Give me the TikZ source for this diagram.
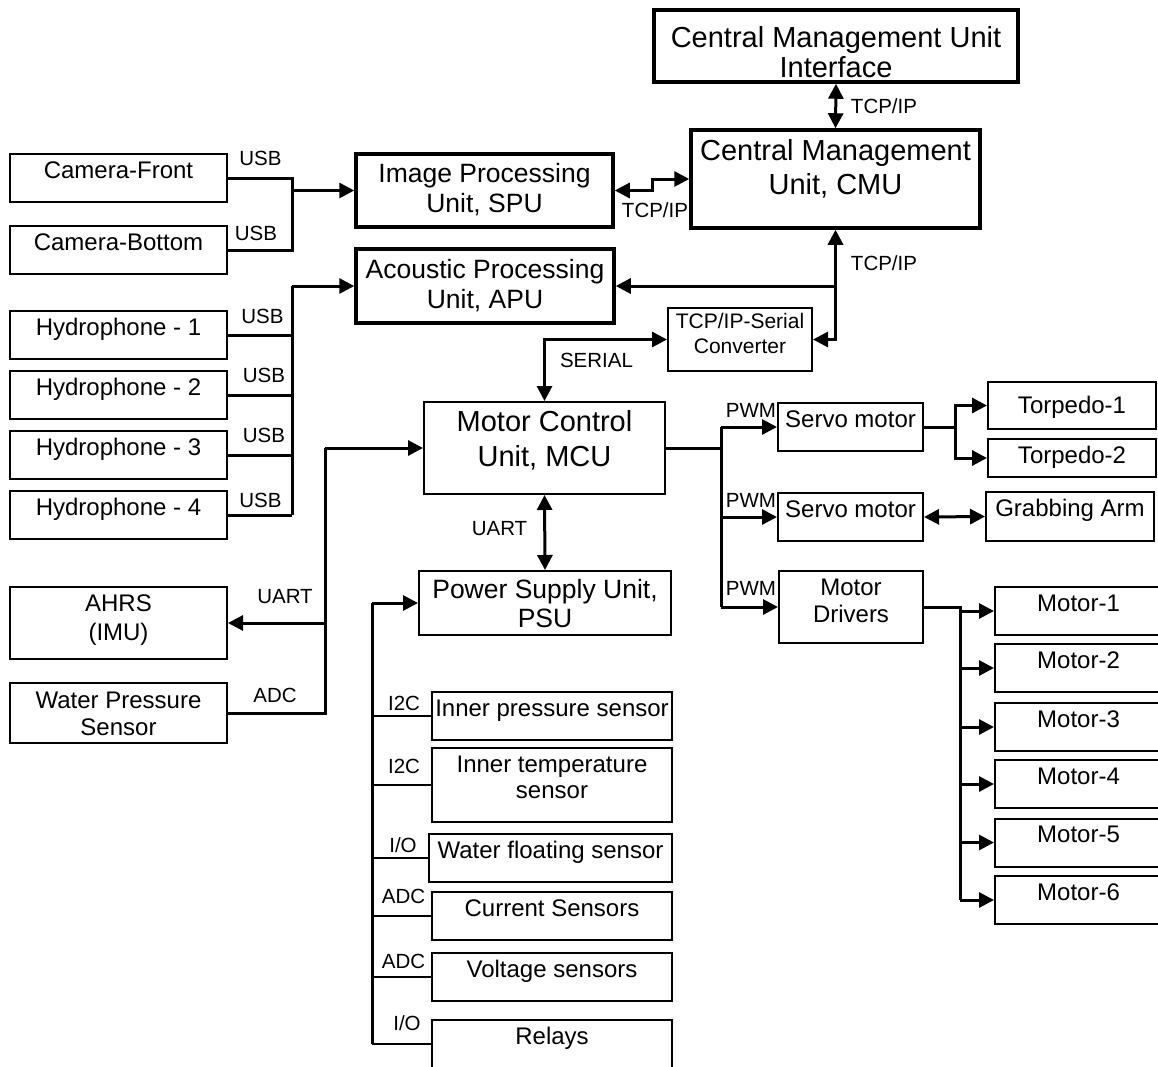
\documentclass[tikz,border=0pt]{standalone}
\usepackage{fontspec}
\setmainfont{Liberation Sans}
\usetikzlibrary{arrows.meta, calc}

\begin{document}
\begin{tikzpicture}[x=1pt, y=-1pt,
    block/.style={rectangle, draw, line width=2pt, inner sep=1pt, align=center,
      text height=0pt, text depth=0pt, font=\fontsize{24}{27}\selectfont},
    mainblock/.style={block, line width=3.5pt},
    camblock/.style={block, minimum width=217, minimum height=48},
    motorblock/.style={block, minimum width=167, minimum height=48},
    sensblock/.style={block, minimum width=240, minimum height=48},
    bus/.style={line width=3pt},
    tie/.style={line width=2.5pt},
    dataflow/.style={bus, -{Triangle[length=15pt, width=15pt]}},
    twoway/.style={bus, {Triangle[length=15pt, width=15pt]}-{Triangle[length=15pt, width=15pt]}},
    iface/.style={anchor=base, inner sep=0pt, font=\fontsize{20.5}{22}\selectfont}]
  \path[use as bounding box, fill=white] (0,0) rectangle (1158,1066);

  % management and processing units
  \node[mainblock, minimum width=364, minimum height=72, text height=62pt,
    font=\fontsize{29}{30}\selectfont] (cmui) at (836,46) {Central Management Unit\\Interface};
  \node[mainblock, minimum width=289, minimum height=98, text height=30pt,
    font=\fontsize{29}{34}\selectfont] (cmu) at (835.5,179) {Central Management\\Unit, CMU};
  \node[mainblock, minimum width=257, minimum height=73, text height=43pt,
    font=\fontsize{26.5}{30}\selectfont] (spu) at (484.5,190.5) {Image Processing\\Unit, SPU};
  \node[mainblock, minimum width=258, minimum height=74, text height=44pt,
    font=\fontsize{26.5}{30}\selectfont] (apu) at (485,286) {Acoustic Processing\\Unit, APU};
  \node[block, minimum width=144, minimum height=63, text height=27pt,
    font=\fontsize{21}{25}\selectfont] (conv) at (740,339.5) {TCP/IP-Serial\\Converter};
  \node[block, minimum width=241, minimum height=92, text height=36pt,
    font=\fontsize{29}{35}\selectfont] (mcu) at (544.5,448) {Motor Control\\Unit, MCU};
  \node[block, minimum width=252, minimum height=64, text height=48pt,
    font=\fontsize{26.5}{29}\selectfont] (psu) at (545,603) {Power Supply Unit,\\PSU};

  % sensors on the left
  \node[camblock] (camf) at (118.5,178) {Camera-Front};
  \node[camblock] (camb) at (118.5,250) {Camera-Bottom};
  \foreach \i/\y in {1/335,2/395,3/455,4/515}
    \node[camblock] (hyd\i) at (118.5,\y) {Hydrophone - \i};
  \node[camblock, minimum height=72, text height=34pt,
    font=\fontsize{24}{28.5}\selectfont] (ahrs) at (118.5,623) {AHRS\\(IMU)};
  \node[camblock, minimum height=60, text height=44pt] (wps) at (118.5,713) {Water Pressure\\Sensor};

  % actuators
  \node[block, minimum width=145, minimum height=48] (servoa) at (850.5,427) {Servo motor};
  \node[block, minimum width=145, minimum height=48] (servob) at (850.5,517) {Servo motor};
  \node[block, minimum width=144, minimum height=72, text height=30pt] (md) at (851,607) {Motor\\Drivers};
  \node[block, minimum width=168, minimum height=47, text height=15pt] (torpa) at (1072,405.5) {Torpedo-1};
  \node[block, minimum width=168, minimum height=38, text height=10pt] (torpb) at (1072,458) {Torpedo-2};
  \node[block, minimum width=168, minimum height=49] (grab) at (1070,516.5) {Grabbing Arm};
  \foreach \i/\y in {1/611,2/668,3/727,4/784,5/842.5,6/900}
    \node[motorblock] (mot\i) at (1078.5,\y) {Motor-\i};

  % internal sensors
  \node[sensblock] (ips) at (552,716) {Inner pressure sensor};
  \node[sensblock, minimum height=74, text height=26pt,
    font=\fontsize{24}{26}\selectfont] (its) at (552,785) {Inner temperature\\sensor};
  \node[sensblock, minimum width=243] (wfs) at (550.5,858) {Water floating sensor};
  \node[sensblock] (cs) at (552,916) {Current Sensors};
  \node[sensblock] (vs) at (552,977) {Voltage sensors};
  \node[sensblock] (rel) at (552,1044) {Relays};

  % junctions
  \coordinate (jcam) at (292,190.5);
  \coordinate (jhyd) at (292,286);
  \coordinate (japu) at (835.5,286);
  \coordinate (jimu) at (325,448);
  \coordinate (jpwm) at (721,448);
  \coordinate (jtor) at (955,427);
  \coordinate (jmot) at (960,607);
  \coordinate (jpsu) at (372,603);

  % cameras and hydrophones
  \draw[bus] (camf.east) -| (jcam) |- (camb.east);
  \draw[dataflow] (jcam) -- (spu.west);
  \draw[bus] (jhyd) -- (jhyd |- hyd4.east);
  \foreach \i in {1,...,4}
    \draw[bus] (hyd\i.east) -- (hyd\i.east -| jhyd);
  \draw[dataflow] (jhyd) -- (apu.west);

  % TCP/IP network
  \draw[twoway] (cmui.south) -- (cmu.north);
  \draw[twoway] (spu.east) -| ($(spu.east)!0.5!(cmu.west)$) |- (cmu.west);
  \draw[twoway] (conv.east) -| (cmu.south);
  \draw[dataflow] (japu) -- (apu.east);
  \draw[twoway] (conv.west) -| (mcu.north);
  \draw[twoway] (mcu.south) -- (psu.north);

  % navigation sensors
  \draw[dataflow] (jimu) -- (mcu.west);
  \draw[bus] (jimu) |- (wps.east);
  \draw[dataflow] (jimu |- ahrs.east) -- (ahrs.east);

  % PWM outputs
  \draw[bus] (mcu.east) -- (jpwm);
  \draw[bus] (jpwm |- servoa.west) -- (jpwm |- md.west);
  \foreach \n in {servoa,servob,md}
    \draw[dataflow] (jpwm |- \n.west) -- (\n.west);
  \draw[bus] (servoa.east) -- (jtor);
  \draw[dataflow] (jtor) |- (torpa.west);
  \draw[dataflow] (jtor) |- (torpb.west);
  \draw[twoway] (servob.east) -- (grab.west);
  \draw[bus] (md.east) -- (jmot) -- (jmot |- mot6.west);
  \foreach \i in {1,...,6}
    \draw[dataflow] (jmot |- mot\i.west) -- (mot\i.west);

  % PSU sensor bus
  \draw[dataflow] (jpsu) -- (psu.west);
  \draw[bus] (jpsu) -- (jpsu |- rel.west);
  \foreach \n in {ips,its,wfs,cs,vs,rel}
    \draw[tie] (jpsu |- \n.west) -- (\n.west);

  % interface labels
  \foreach \x/\y [count=\k] in {260.5/165,256/240,262.5/323,264/382,264/442,260.5/507}
    \node[iface] (usb\k) at (\x,\y) {USB};
  \foreach \x/\y [count=\k] in {884/113,655/217,884/270}
    \node[iface] (tcp\k) at (\x,\y) {TCP/IP};
  \foreach \y [count=\k] in {417,507,595}
    \node[iface] (pwm\k) at (751,\y) {PWM};
  \node[iface] (serial) at (596.5,367) {SERIAL};
  \node[iface] (uarta) at (499.5,535) {UART};
  \node[iface] (uartb) at (285,603) {UART};
  \node[iface] (adca) at (275,702) {ADC};
  \node[iface] (i2ca) at (404,710) {I2C};
  \node[iface] (i2cb) at (404,773) {I2C};
  \node[iface] (ioa) at (403,852) {I/O};
  \node[iface] (adcb) at (403.5,903) {ADC};
  \node[iface] (adcc) at (403.5,968) {ADC};
  \node[iface] (iob) at (407,1030) {I/O};
\end{tikzpicture}
\end{document}
